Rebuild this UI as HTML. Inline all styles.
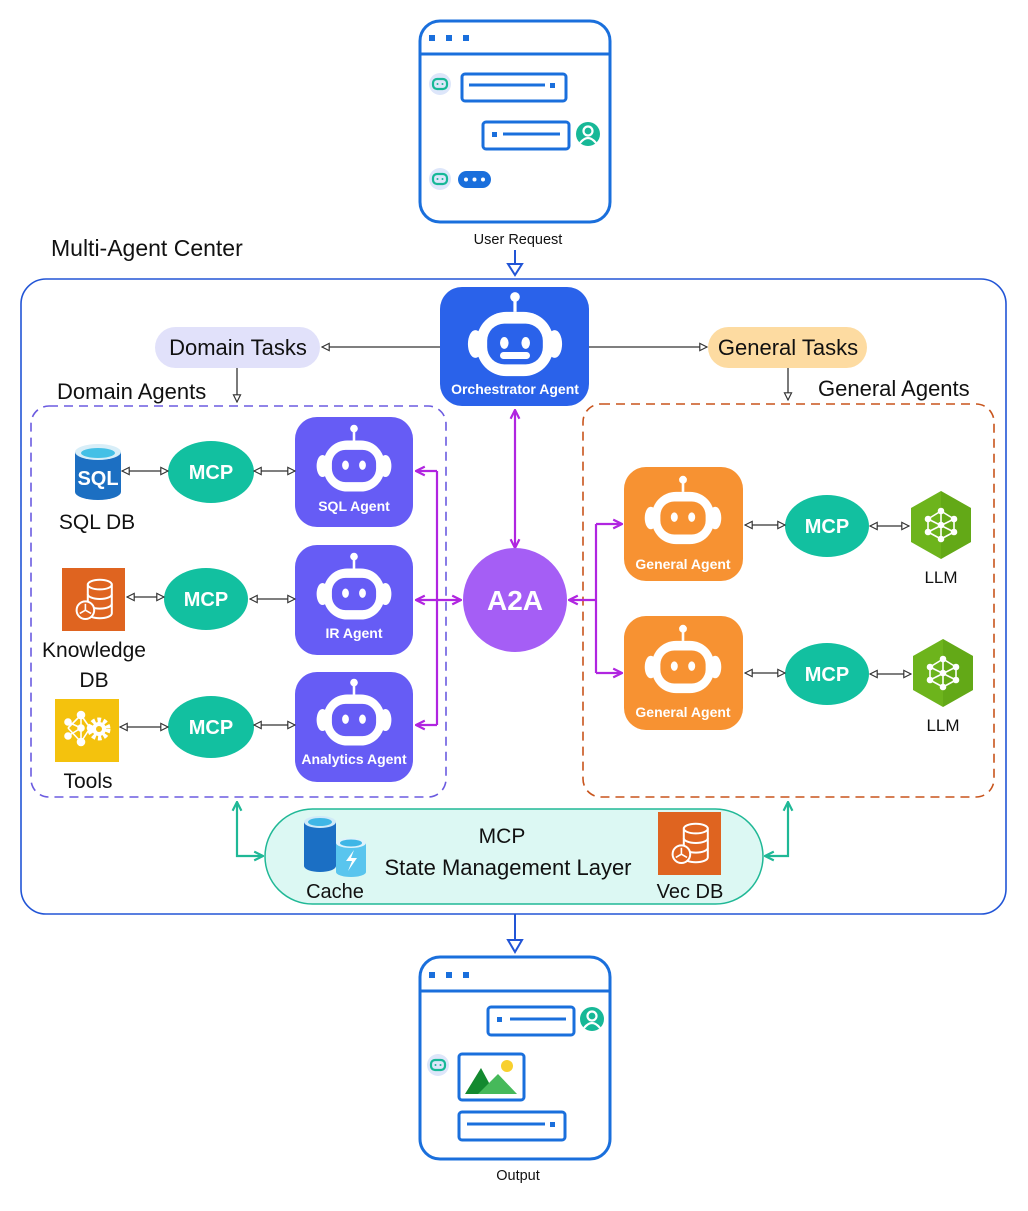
<!DOCTYPE html>
<html><head><meta charset="utf-8"><style>
html,body{margin:0;padding:0;background:#fff;}
svg{display:block;}
text{font-family:"Liberation Sans",sans-serif;}
</style></head><body>
<svg width="1028" height="1211" viewBox="0 0 1028 1211" xmlns="http://www.w3.org/2000/svg">
<defs>
  <g id="robot">
    <line x1="0" y1="-42" x2="0" y2="-30" stroke="#fff" stroke-width="3"/>
    <circle cx="0" cy="-44" r="4.5" fill="#fff"/>
    <ellipse cx="-37" cy="0" rx="7" ry="13" fill="#fff"/>
    <ellipse cx="37" cy="0" rx="7" ry="13" fill="#fff"/>
    <rect x="-36" y="-30" width="72" height="60" rx="28" fill="#fff"/>
    <rect x="-26" y="-19" width="52" height="38" rx="16" fill="currentColor"/>
    <ellipse cx="-10" cy="-1" rx="4" ry="5.5" fill="#fff"/>
    <ellipse cx="10" cy="-1" rx="4" ry="5.5" fill="#fff"/>
  </g>
  <marker id="oa" viewBox="0 0 10 10" refX="9" refY="5" markerWidth="9" markerHeight="9" orient="auto-start-reverse" markerUnits="userSpaceOnUse">
    <path d="M1,1 L9,5 L1,9 Z" fill="#fff" stroke="#333" stroke-width="1.3"/>
  </marker>
  <marker id="pa" viewBox="0 0 10 10" refX="9" refY="5" markerWidth="11" markerHeight="11" orient="auto-start-reverse" markerUnits="userSpaceOnUse">
    <path d="M1,1 L9,5 L1,9" fill="none" stroke="#b025e0" stroke-width="2"/>
  </marker>
  <marker id="ta" viewBox="0 0 10 10" refX="9" refY="5" markerWidth="11" markerHeight="11" orient="auto-start-reverse" markerUnits="userSpaceOnUse">
    <path d="M1,1 L9,5 L1,9" fill="none" stroke="#1fb896" stroke-width="2"/>
  </marker>
  <g id="botsmall">
    <circle r="11" fill="#dde6fa"/>
    <rect x="-7" y="-5" width="14" height="10" rx="4" fill="none" stroke="#17b897" stroke-width="2.2"/>
    <circle cx="-2.5" cy="0" r="1" fill="#17b897"/><circle cx="2.5" cy="0" r="1" fill="#17b897"/>
  </g>
  <g id="user">
    <circle r="12" fill="#17b897"/>
    <circle cx="0" cy="-3" r="4.5" fill="none" stroke="#fff" stroke-width="2.2"/>
    <path d="M-8,9 Q0,-1 8,9" fill="none" stroke="#fff" stroke-width="2.2"/>
  </g>
  <g id="hex">
    <polygon points="0,-34 30,-17 30,17 0,34 -30,17 -30,-17" fill="#6db41c"/>
    <polygon points="0,-34 30,-17 30,17 0,34" fill="#5a9e12" opacity="0.5"/>
    <g stroke="#fff" stroke-width="1.6" fill="#fff">
      <line x1="0" y1="-14" x2="-13" y2="-6"/><line x1="0" y1="-14" x2="13" y2="-6"/>
      <line x1="-13" y1="-6" x2="-13" y2="7"/><line x1="13" y1="-6" x2="13" y2="7"/>
      <line x1="0" y1="14" x2="-13" y2="7"/><line x1="0" y1="14" x2="13" y2="7"/>
      <line x1="0" y1="-14" x2="0" y2="14"/><line x1="-13" y1="-6" x2="13" y2="7"/><line x1="13" y1="-6" x2="-13" y2="7"/>
      <circle cx="0" cy="-14" r="2.5"/><circle cx="0" cy="14" r="2.5"/><circle cx="-13" cy="-6" r="2.5"/><circle cx="13" cy="-6" r="2.5"/><circle cx="-13" cy="7" r="2.5"/><circle cx="13" cy="7" r="2.5"/><circle cx="0" cy="0" r="2.5"/>
    </g>
  </g>
  <g id="dbicon">
    <g fill="none" stroke="#fff" stroke-width="2.5">
      <ellipse cx="6" cy="-18" rx="15" ry="6"/>
      <path d="M-9,-18 V18 A15,6 0 0 0 21,18 V-18"/>
      <path d="M-9,-6 A15,6 0 0 0 21,-6"/><path d="M-9,6 A15,6 0 0 0 21,6"/>
    </g>
    <circle cx="-12" cy="14" r="11" fill="currentColor" stroke="#fff" stroke-width="2.5"/>
    <g stroke="#fff" stroke-width="2"><line x1="-12" y1="14" x2="-12" y2="6"/><line x1="-12" y1="14" x2="-19" y2="18"/><line x1="-12" y1="14" x2="-5" y2="18"/></g>
  </g>
</defs>

<!-- top window -->
<rect x="420" y="21" width="190" height="201" rx="20" fill="#fff" stroke="#1a6fdc" stroke-width="3"/>
<line x1="420" y1="54" x2="610" y2="54" stroke="#1a6fdc" stroke-width="3"/>
<g fill="#1a6fdc"><rect x="429" y="35" width="6" height="6"/><rect x="446" y="35" width="6" height="6"/><rect x="463" y="35" width="6" height="6"/></g>
<use href="#botsmall" x="440" y="84"/>
<rect x="462" y="74" width="104" height="27" rx="3" fill="none" stroke="#1a6fdc" stroke-width="3"/>
<line x1="469" y1="85" x2="545" y2="85" stroke="#1a6fdc" stroke-width="3"/><rect x="550" y="83" width="5" height="5" fill="#1a6fdc"/>
<rect x="483" y="122" width="86" height="27" rx="3" fill="none" stroke="#1a6fdc" stroke-width="3"/>
<rect x="492" y="132" width="5" height="5" fill="#1a6fdc"/><line x1="503" y1="134" x2="560" y2="134" stroke="#1a6fdc" stroke-width="3"/>
<use href="#user" x="588" y="134"/>
<use href="#botsmall" x="440" y="179"/>
<rect x="458" y="171" width="33" height="17" rx="8.5" fill="#1a6fdc"/>
<g fill="#fff"><circle cx="466" cy="179.5" r="2"/><circle cx="474.5" cy="179.5" r="2"/><circle cx="483" cy="179.5" r="2"/></g>
<text x="518" y="244" font-size="14.5" text-anchor="middle" fill="#111">User Request</text>
<line x1="515" y1="250" x2="515" y2="264" stroke="#2255d6" stroke-width="2"/>
<path d="M508,264 L522,264 L515,275 Z" fill="#fff" stroke="#2255d6" stroke-width="2"/>

<text x="51" y="256" font-size="23" fill="#111">Multi-Agent Center</text>
<rect x="21" y="279" width="985" height="635" rx="25" fill="none" stroke="#2255d6" stroke-width="1.6"/>

<!-- orchestrator -->
<line x1="440" y1="347" x2="322" y2="347" stroke="#333" stroke-width="1.3" marker-end="url(#oa)"/>
<line x1="589" y1="347" x2="707" y2="347" stroke="#333" stroke-width="1.3" marker-end="url(#oa)"/>
<rect x="440" y="287" width="149" height="119" rx="22" fill="#2a62ea"/>
<use href="#robot" color="#2a62ea" transform="translate(515 344) scale(1.07)"/>
<rect x="500" y="352" width="30" height="7" rx="3.5" fill="#fff"/>
<text x="515" y="394" font-size="14" font-weight="bold" fill="#fff" text-anchor="middle">Orchestrator Agent</text>

<rect x="155" y="327" width="165" height="41" rx="20.5" fill="#e1e1fa"/>
<text x="238" y="355" font-size="22" text-anchor="middle" fill="#111">Domain Tasks</text>
<rect x="708" y="327" width="159" height="41" rx="20.5" fill="#fddba1"/>
<text x="788" y="355" font-size="22" text-anchor="middle" fill="#111">General Tasks</text>
<line x1="237" y1="368" x2="237" y2="402" stroke="#333" stroke-width="1.3" marker-end="url(#oa)"/>
<line x1="788" y1="368" x2="788" y2="400" stroke="#333" stroke-width="1.3" marker-end="url(#oa)"/>
<text x="57" y="399" font-size="22" fill="#111">Domain Agents</text>
<text x="818" y="396" font-size="22" fill="#111">General Agents</text>

<rect x="31" y="406" width="415" height="391" rx="18" fill="none" stroke="#6b5be0" stroke-width="1.6" stroke-dasharray="9,6"/>
<rect x="583" y="404" width="411" height="393" rx="18" fill="none" stroke="#c8541c" stroke-width="1.6" stroke-dasharray="9,6"/>

<!-- domain agents -->
<g>
<rect x="295" y="417" width="118" height="110" rx="22" fill="#665cf5"/>
<use href="#robot" color="#665cf5" transform="translate(354 466) scale(0.85)"/>
<text x="354" y="511" font-size="14" font-weight="bold" fill="#fff" text-anchor="middle">SQL Agent</text>
<rect x="295" y="545" width="118" height="110" rx="22" fill="#665cf5"/>
<use href="#robot" color="#665cf5" transform="translate(354 594) scale(0.85)"/>
<text x="354" y="638" font-size="14" font-weight="bold" fill="#fff" text-anchor="middle">IR Agent</text>
<rect x="295" y="672" width="118" height="110" rx="22" fill="#665cf5"/>
<use href="#robot" color="#665cf5" transform="translate(354 720) scale(0.85)"/>
<text x="354" y="764" font-size="14" font-weight="bold" fill="#fff" text-anchor="middle">Analytics Agent</text>
</g>
<g fill="#12c0a0">
<ellipse cx="211" cy="472" rx="43" ry="31"/><ellipse cx="206" cy="599" rx="42" ry="31"/><ellipse cx="211" cy="727" rx="43" ry="31"/>
<ellipse cx="827" cy="526" rx="42" ry="31"/><ellipse cx="827" cy="674" rx="42" ry="31"/>
</g>
<g font-size="20" font-weight="bold" fill="#fff" text-anchor="middle">
<text x="211" y="479">MCP</text><text x="206" y="606">MCP</text><text x="211" y="734">MCP</text>
<text x="827" y="533">MCP</text><text x="827" y="681">MCP</text>
</g>
<g stroke="#333" stroke-width="1.3">
<line x1="122" y1="471" x2="168" y2="471" marker-start="url(#oa)" marker-end="url(#oa)"/>
<line x1="254" y1="471" x2="295" y2="471" marker-start="url(#oa)" marker-end="url(#oa)"/>
<line x1="127" y1="597" x2="164" y2="597" marker-start="url(#oa)" marker-end="url(#oa)"/>
<line x1="250" y1="599" x2="295" y2="599" marker-start="url(#oa)" marker-end="url(#oa)"/>
<line x1="120" y1="727" x2="168" y2="727" marker-start="url(#oa)" marker-end="url(#oa)"/>
<line x1="254" y1="725" x2="295" y2="725" marker-start="url(#oa)" marker-end="url(#oa)"/>
<line x1="745" y1="525" x2="785" y2="525" marker-start="url(#oa)" marker-end="url(#oa)"/>
<line x1="870" y1="526" x2="909" y2="526" marker-start="url(#oa)" marker-end="url(#oa)"/>
<line x1="745" y1="673" x2="785" y2="673" marker-start="url(#oa)" marker-end="url(#oa)"/>
<line x1="870" y1="674" x2="911" y2="674" marker-start="url(#oa)" marker-end="url(#oa)"/>
</g>

<!-- SQL icon -->
<path d="M75,452 V492 A23,8 0 0 0 121,492 V452 Z" fill="#1c6fc2"/>
<ellipse cx="98" cy="452" rx="23" ry="8" fill="#d8eef8"/>
<ellipse cx="98" cy="453" rx="17" ry="5" fill="#44c0e6"/>
<text x="98" y="485" font-size="20" font-weight="bold" fill="#fff" text-anchor="middle">SQL</text>
<text x="97" y="529" font-size="21" text-anchor="middle" fill="#111">SQL DB</text>
<!-- Knowledge -->
<rect x="62" y="568" width="63" height="63" fill="#df6420"/>
<use href="#dbicon" color="#df6420" transform="translate(95 599) scale(0.8)"/>
<text x="94" y="657" font-size="21" text-anchor="middle" fill="#111">Knowledge</text>
<text x="94" y="687" font-size="21" text-anchor="middle" fill="#111">DB</text>
<!-- Tools -->
<rect x="55" y="699" width="64" height="63" fill="#f4c20d"/>
<g fill="#fff" stroke="#fff" stroke-width="1.6">
<line x1="81" y1="715" x2="68" y2="728"/><line x1="81" y1="715" x2="81" y2="742"/><line x1="68" y1="728" x2="81" y2="742"/><line x1="68" y1="722" x2="81" y2="728"/><line x1="68" y1="736" x2="81" y2="728"/><line x1="81" y1="715" x2="90" y2="728"/><line x1="81" y1="742" x2="90" y2="728"/>
<circle cx="81" cy="715" r="3.5"/><circle cx="68" cy="722" r="3"/><circle cx="68" cy="736" r="3"/><circle cx="81" cy="728" r="3"/><circle cx="81" cy="742" r="3.5"/><circle cx="90" cy="728" r="2.5"/>
</g>
<circle cx="99" cy="729" r="9" fill="none" stroke="#fff" stroke-width="5" stroke-dasharray="3.5,2.3"/>
<circle cx="99" cy="729" r="7" fill="#fff"/><circle cx="99" cy="729" r="3" fill="#f4c20d"/>
<text x="88" y="788" font-size="21" text-anchor="middle" fill="#111">Tools</text>

<!-- purple connections -->
<g stroke="#b025e0" stroke-width="2.2" fill="none">
<line x1="515" y1="410" x2="515" y2="548" marker-start="url(#pa)" marker-end="url(#pa)"/>
<line x1="437" y1="471" x2="437" y2="725"/>
<line x1="437" y1="471" x2="416" y2="471" marker-end="url(#pa)"/>
<line x1="437" y1="725" x2="416" y2="725" marker-end="url(#pa)"/>
<line x1="416" y1="600" x2="461" y2="600" marker-start="url(#pa)" marker-end="url(#pa)"/>
<line x1="569" y1="600" x2="596" y2="600" marker-start="url(#pa)"/>
<line x1="596" y1="524" x2="596" y2="673"/>
<line x1="596" y1="524" x2="622" y2="524" marker-end="url(#pa)"/>
<line x1="596" y1="673" x2="622" y2="673" marker-end="url(#pa)"/>
</g>
<circle cx="515" cy="600" r="52" fill="#a55ef5"/>
<text x="515" y="610" font-size="28" font-weight="bold" fill="#fff" text-anchor="middle">A2A</text>

<!-- general agents -->
<rect x="624" y="467" width="119" height="114" rx="22" fill="#f79232"/>
<use href="#robot" color="#f79232" transform="translate(683 518) scale(0.87)"/>
<text x="683" y="569" font-size="14" font-weight="bold" fill="#fff" text-anchor="middle">General Agent</text>
<rect x="624" y="616" width="119" height="114" rx="22" fill="#f79232"/>
<use href="#robot" color="#f79232" transform="translate(683 667) scale(0.87)"/>
<text x="683" y="717" font-size="14" font-weight="bold" fill="#fff" text-anchor="middle">General Agent</text>
<use href="#hex" x="941" y="525"/>
<use href="#hex" x="943" y="673"/>
<text x="941" y="583" font-size="17" text-anchor="middle" fill="#111">LLM</text>
<text x="943" y="731" font-size="17" text-anchor="middle" fill="#111">LLM</text>

<!-- state layer -->
<g stroke="#1fb896" stroke-width="2.2" fill="none">
<path d="M237,802 V856 H263" marker-start="url(#ta)" marker-end="url(#ta)"/>
<path d="M788,802 V856 H765" marker-start="url(#ta)" marker-end="url(#ta)"/>
</g>
<rect x="265" y="809" width="498" height="95" rx="47.5" fill="#dcf8f3" stroke="#20b896" stroke-width="1.5"/>
<path d="M304,822 V866 A16,6 0 0 0 336,866 V822 Z" fill="#1b6fc4"/>
<ellipse cx="320" cy="822" rx="16" ry="6" fill="#cfeaf8"/>
<ellipse cx="320" cy="822" rx="12" ry="4" fill="#3fb6e6"/>
<path d="M336,843 V872 A15,5 0 0 0 366,872 V843 Z" fill="#59c5ee"/>
<ellipse cx="351" cy="843" rx="15" ry="5" fill="#dff3fb"/>
<ellipse cx="351" cy="843" rx="11" ry="3.5" fill="#3fb6e6"/>
<path d="M354,850 L346,861 H352 L348,871 L357,858 H351 Z" fill="#fff"/>
<text x="335" y="898" font-size="20" text-anchor="middle" fill="#111">Cache</text>
<text x="502" y="843" font-size="21" text-anchor="middle" fill="#111">MCP</text>
<text x="508" y="875" font-size="22" text-anchor="middle" fill="#111">State Management Layer</text>
<rect x="658" y="812" width="63" height="63" fill="#df6420"/>
<use href="#dbicon" color="#df6420" transform="translate(691 843) scale(0.8)"/>
<text x="690" y="898" font-size="20" text-anchor="middle" fill="#111">Vec DB</text>

<!-- output arrow -->
<line x1="515" y1="914" x2="515" y2="940" stroke="#2255d6" stroke-width="2"/>
<path d="M508,940 L522,940 L515,952 Z" fill="#fff" stroke="#2255d6" stroke-width="2"/>

<!-- bottom window -->
<rect x="420" y="957" width="190" height="202" rx="20" fill="#fff" stroke="#1a6fdc" stroke-width="3"/>
<line x1="420" y1="991" x2="610" y2="991" stroke="#1a6fdc" stroke-width="3"/>
<g fill="#1a6fdc"><rect x="429" y="972" width="6" height="6"/><rect x="446" y="972" width="6" height="6"/><rect x="463" y="972" width="6" height="6"/></g>
<rect x="488" y="1007" width="86" height="28" rx="3" fill="none" stroke="#1a6fdc" stroke-width="3"/>
<rect x="497" y="1017" width="5" height="5" fill="#1a6fdc"/><line x1="510" y1="1019" x2="566" y2="1019" stroke="#1a6fdc" stroke-width="3"/>
<use href="#user" x="592" y="1019"/>
<use href="#botsmall" x="438" y="1065"/>
<rect x="459" y="1054" width="65" height="46" rx="3" fill="none" stroke="#1a6fdc" stroke-width="3"/>
<circle cx="507" cy="1066" r="6" fill="#f8d02e"/>
<path d="M465,1094 L481,1068 L495,1094 Z" fill="#13892f"/>
<path d="M478,1094 L498,1074 L517,1094 Z" fill="#46b95a"/>
<rect x="459" y="1112" width="106" height="28" rx="3" fill="none" stroke="#1a6fdc" stroke-width="3"/>
<line x1="467" y1="1124" x2="545" y2="1124" stroke="#1a6fdc" stroke-width="3"/><rect x="550" y="1122" width="5" height="5" fill="#1a6fdc"/>
<text x="518" y="1180" font-size="14.5" text-anchor="middle" fill="#111">Output</text>
</svg>
</body></html>
